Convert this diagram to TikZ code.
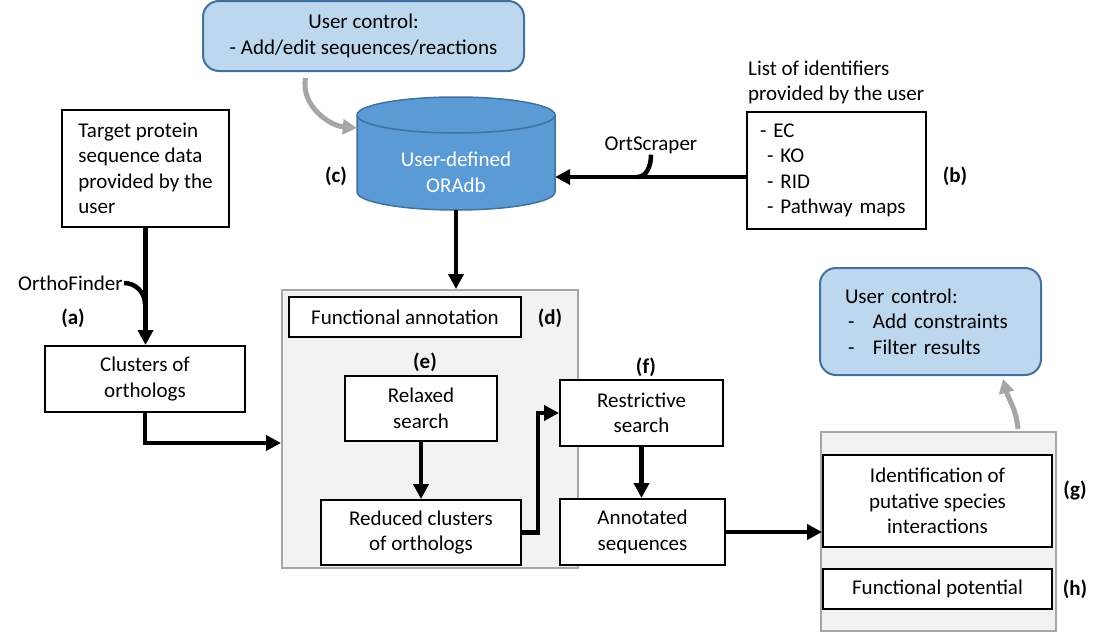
\documentclass[tikz,border=0pt]{standalone}
\usepackage{fontspec}
\setmainfont{Carlito}
\usetikzlibrary{arrows.meta}
\definecolor{ctrlfill}{HTML}{BDD7EE}
\definecolor{ctrlline}{HTML}{41719C}
\definecolor{dbfill}{HTML}{5B9BD5}
\definecolor{panelfill}{HTML}{F2F2F2}
\definecolor{panelline}{HTML}{A6A6A6}

\begin{document}
\begin{tikzpicture}[x=1pt,y=1pt,font=\fontsize{21}{25.5}\selectfont]
        \tikzstyle{box}=[draw=black, line width=2pt, fill=white, inner sep=0pt, align=center]
        \tikzstyle{panel}=[draw=panelline, line width=2pt, fill=panelfill, inner sep=0pt]
        \tikzstyle{usr}=[draw=ctrlline, line width=2pt, fill=ctrlfill, rounded corners=16pt, inner sep=0pt]
        \tikzstyle{tag}=[font=\fontsize{21}{25.5}\selectfont\bfseries, inner sep=0pt]
        \tikzstyle{flow}=[draw=black, line width=4.5pt, -{Triangle[length=15pt,width=15pt]}]
        \tikzstyle{hook}=[draw=black, line width=4.5pt]
        \tikzstyle{ctrl}=[draw=panelline, line width=5pt, -{Triangle[length=14pt,width=15pt]}]

        \useasboundingbox (0,0) rectangle (1109,-632);

        % grey panels
        \node [panel, minimum width=296, minimum height=278] (annpanel) at (430,-429) {};
        \node [panel, minimum width=235, minimum height=199] (respanel) at (938.5,-531.5) {};

        % database
        \draw [draw=ctrlline, line width=1.5pt, fill=dbfill] (357,-115) -- (357,-192)
            arc [start angle=180, end angle=360, x radius=99pt, y radius=18pt] -- (555,-115)
            arc [start angle=0, end angle=180, x radius=99pt, y radius=18pt] -- cycle;
        \draw [draw=ctrlline, line width=1.5pt] (357,-115)
            arc [start angle=180, end angle=360, x radius=99pt, y radius=18pt];
        \node [inner sep=0pt, minimum width=198, minimum height=75, align=center, text=white] (db) at (456,-172.5) {User-defined\\ORAdb};
        \node [tag] (tc) at (336,-176) {(c)};

        % user control
        \node [usr, minimum width=321, minimum height=70, align=center] (ctrltop) at (363.5,-36) {User control:\\- Add/edit sequences/reactions};
        \node [usr, minimum height=107, text width=171pt, inner xsep=25pt, align=left] (ctrlright) at (930.5,-321.5)
              {User control:\\\hspace*{3pt}\makebox[25pt][l]{-}Add constraints\\\hspace*{3pt}\makebox[25pt][l]{-}Filter results};

        % identifiers
        \node [inner sep=0pt, anchor=west, align=left] (idlabel) at (748,-82.5) {List of identifiers\\provided by the user};
        \node [box, minimum height=117, text width=153pt, inner xsep=13pt, align=left] (ids) at (836.5,-170.5)
              {- EC\\\hspace*{7pt}- KO\\\hspace*{7pt}- RID\\\hspace*{7pt}- Pathway maps};
        \node [tag] (tb) at (955,-176) {(b)};
        \node [inner sep=1pt] (scraper) at (651,-145) {OrtScraper};

        % input sequences
        \node [box, minimum width=167, minimum height=117, align=left] (target) at (145.5,-168.5)
              {Target protein\\sequence data\\provided by the\\user};
        \node [inner sep=1pt, anchor=east] (ortho) at (124,-283) {OrthoFinder};
        \node [tag] (ta) at (73,-318) {(a)};
        \node [box, minimum width=200, minimum height=66] (clusters) at (145,-379) {Clusters of\\orthologs};

        % functional annotation
        \node [box, minimum width=232, minimum height=40] (funcann) at (405,-317) {Functional annotation};
        \node [tag] (td) at (550,-318) {(d)};
        \node [tag] (te) at (425,-362) {(e)};
        \node [box, minimum width=152, minimum height=65] (relaxed) at (421,-408.5) {Relaxed\\search};
        \node [box, minimum width=200, minimum height=65] (reduced) at (421,-532.5) {Reduced clusters\\of orthologs};
        \node [tag] (tf) at (646,-367) {(f)};
        \node [box, minimum width=163, minimum height=66] (restrict) at (641.5,-413) {Restrictive\\search};
        \node [box, minimum width=165, minimum height=66] (annot) at (642.5,-532) {Annotated\\sequences};

        % results
        \node [box, minimum width=229, minimum height=92] (ident) at (937.5,-501) {Identification of\\putative species\\interactions};
        \node [tag] (tg) at (1075,-490) {(g)};
        \node [box, minimum width=229, minimum height=40] (funcpot) at (937.5,-589) {Functional potential};
        \node [tag] (th) at (1075,-589) {(h)};

        % connectors
        \coordinate (ojoin) at (145,-304);
        \coordinate (sjoin) at (637,-177);
        \path [flow] (target.south) -- (target.south |- clusters.north);
        \path [hook] (ortho.east) to [out=0, in=90] (ojoin);
        \path [flow] (clusters.south) |- ([yshift=-14pt]annpanel.west);
        \path [flow] (ids.west |- sjoin) -- (db.east |- sjoin);
        \path [hook] (scraper.south) to [out=-90, in=0] (sjoin);
        \path [flow] (db.south) -- (db.south |- annpanel.north);
        \path [flow] (relaxed.south) -- (reduced.north);
        \path [flow] (reduced.east) -- ++(16,0) |- (restrict.west);
        \path [flow] (restrict.south) -- (restrict.south |- annot.north);
        \path [flow] (annot.east) -- (annot.east -| ident.west);
        \path [ctrl] ([shift={(-58,-6)}]ctrltop.south) to [out=-100, in=175] ([yshift=44.5pt]db.west);
        \path [ctrl] ([shift={(79.5,2)}]respanel.north) to [out=95, in=-75] ([shift={(72.5,-3)}]ctrlright.south);
\end{tikzpicture}
\end{document}
